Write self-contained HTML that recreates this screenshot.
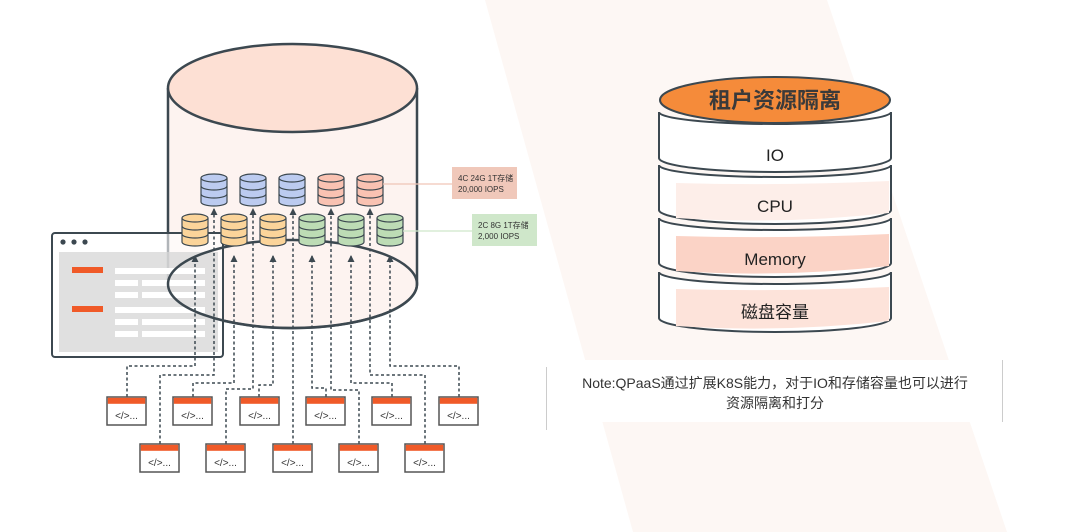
<!DOCTYPE html>
<html><head><meta charset="utf-8"><style>
html,body{margin:0;padding:0;background:#fff;}
svg{display:block;font-family:"Liberation Sans","Noto Sans CJK SC",sans-serif;}
</style></head><body>
<svg width="1080" height="532" viewBox="0 0 1080 532" xmlns="http://www.w3.org/2000/svg">
<defs>
<marker id="ah" markerUnits="userSpaceOnUse" markerWidth="8" markerHeight="8" refX="6" refY="4" orient="auto"><path d="M0,0.5 L7,4 L0,7.5 z" fill="#3c4850"/></marker>
<g id="db">
 <path d="M-13,-12 V12 A13,4 0 0 0 13,12 V-12" stroke="#3c4850" stroke-width="1.2"/>
 <ellipse cx="0" cy="-12" rx="13" ry="4" stroke="#3c4850" stroke-width="1.2"/>
 <path d="M-13,-4 A13,4 0 0 0 13,-4 M-13,4 A13,4 0 0 0 13,4" fill="none" stroke="#3c4850" stroke-width="1.2"/>
</g>
<g id="cl">
 <rect x="0" y="0" width="39" height="28" fill="#fff" stroke="#555" stroke-width="1.5"/>
 <rect x="0.8" y="0.8" width="37.4" height="6" fill="#f05a28"/>
 <text x="19.5" y="22" font-size="10" text-anchor="middle" fill="#333">&lt;/&gt;...</text>
</g>
</defs>
<polygon points="485,0 827,0 1007,532 633,532" fill="#fdf7f4"/>

<!-- big cylinder -->
<path d="M168,88 V284 A124,44 0 0 0 417,284 V88" fill="#fdf3f0" stroke="#3c4850" stroke-width="2.5"/>
<ellipse cx="292.5" cy="88" rx="124.5" ry="44" fill="#fde0d4" stroke="#3c4850" stroke-width="2.5"/>

<!-- window -->
<rect x="52" y="233" width="171" height="124" rx="3" fill="rgba(255,255,255,0.6)" stroke="#3c4850" stroke-width="2"/>
<path d="M222,233 H232" stroke="#3c4850" stroke-width="1.5"/>
<circle cx="63" cy="242" r="2.6" fill="#3c4850"/><circle cx="74" cy="242" r="2.6" fill="#3c4850"/><circle cx="85" cy="242" r="2.6" fill="#3c4850"/>
<rect x="59" y="252" width="159" height="100" fill="#d6d6d6" opacity="0.75"/>
<rect x="72" y="267" width="31" height="6" fill="#f05a28"/>
<rect x="72" y="306" width="31" height="6" fill="#f05a28"/>
<g fill="#fff">
<rect x="115" y="268" width="90" height="6"/><rect x="115" y="280" width="23" height="6"/><rect x="142" y="280" width="63" height="6"/>
<rect x="115" y="292" width="23" height="6"/><rect x="142" y="292" width="63" height="6"/>
<rect x="115" y="307" width="90" height="6"/><rect x="115" y="319" width="23" height="6"/><rect x="142" y="319" width="63" height="6"/>
<rect x="115" y="331" width="23" height="6"/><rect x="142" y="331" width="63" height="6"/>
</g>
<ellipse cx="292.5" cy="284" rx="124.5" ry="44" fill="none" stroke="#3c4850" stroke-width="2.5"/>

<!-- connectors -->
<g fill="none" stroke="#3c4850" stroke-width="1.5" stroke-dasharray="3,2.5" marker-end="url(#ah)">
<path d="M127,397 V366 H195 V256"/>
<path d="M160,444 V375 H214 V209"/>
<path d="M193,397 V383 H234 V256"/>
<path d="M226,444 V389 H253 V209"/>
<path d="M259,397 V385 H273 V256"/>
<path d="M293,444 V209"/>
<path d="M326,397 V388 H312 V256"/>
<path d="M359,444 V390 H331 V209"/>
<path d="M392,397 V383 H351 V256"/>
<path d="M425,444 V375 H370 V209"/>
<path d="M459,397 V366 H390 V256"/>
</g>

<!-- dbs -->
<g fill="#bccbf0"><use href="#db" x="214" y="190"/><use href="#db" x="253" y="190"/><use href="#db" x="292" y="190"/></g>
<g fill="#f9c2b2"><use href="#db" x="331" y="190"/><use href="#db" x="370" y="190"/></g>
<g fill="#fbd49a"><use href="#db" x="195" y="230"/><use href="#db" x="234" y="230"/><use href="#db" x="273" y="230"/></g>
<g fill="#bddcb5"><use href="#db" x="312" y="230"/><use href="#db" x="351" y="230"/><use href="#db" x="390" y="230"/></g>

<line x1="383" y1="184" x2="452" y2="184" stroke="#f0c5b7" stroke-width="1.2"/>
<rect x="452" y="167" width="65" height="32" fill="#f0c8ba"/>
<text x="458" y="181" font-size="8" fill="#333">4C 24G 1T存储</text>
<text x="458" y="192" font-size="8" fill="#333">20,000 IOPS</text>
<line x1="403" y1="231" x2="472" y2="231" stroke="#cfe8cb" stroke-width="1.2"/>
<rect x="472" y="214" width="65" height="32" fill="#cfe7ca"/>
<text x="478" y="228" font-size="8" fill="#333">2C  8G 1T存储</text>
<text x="478" y="239" font-size="8" fill="#333">2,000 IOPS</text>

<!-- clients -->
<use href="#cl" x="107" y="397"/><use href="#cl" x="173" y="397"/><use href="#cl" x="240" y="397"/>
<use href="#cl" x="306" y="397"/><use href="#cl" x="372" y="397"/><use href="#cl" x="439" y="397"/>
<use href="#cl" x="140" y="444"/><use href="#cl" x="206" y="444"/><use href="#cl" x="273" y="444"/>
<use href="#cl" x="339" y="444"/><use href="#cl" x="405" y="444"/>

<!-- right stack -->
<g stroke="#3c4850" stroke-width="2">
<path d="M659,272 A116,12 0 0 0 891,272 V318 A116,14 0 0 1 659,318 Z" fill="#fff"/>
<path d="M659,218 A116,12 0 0 0 891,218 V263 A116,14 0 0 1 659,263 Z" fill="#fff"/>
<path d="M659,165 A116,12 0 0 0 891,165 V210 A116,14 0 0 1 659,210 Z" fill="#fff"/>
<path d="M659,112 A116,12 0 0 0 891,112 V158 A116,14 0 0 1 659,158 Z" fill="#fff"/>
</g>
<path d="M676,183 Q780,186 889,181 V213 Q780,225 676,218 Z" fill="#fdeee9"/>
<path d="M676,236 Q780,239 889,234 V266 Q780,278 676,271 Z" fill="#fbd3c6"/>
<path d="M676,289 Q780,292 889,287 V321 Q780,333 676,326 Z" fill="#fde3da"/>
<ellipse cx="775" cy="100" rx="115" ry="23" fill="#f58b3a" stroke="#3c4850" stroke-width="2"/>
<text x="775" y="108" font-size="22" font-weight="bold" text-anchor="middle" fill="#3a3a3a">租户资源隔离</text>
<g font-size="17" text-anchor="middle" fill="#222">
<text x="775" y="161">IO</text>
<text x="775" y="212">CPU</text>
<text x="775" y="265">Memory</text>
<text x="775" y="318">磁盘容量</text>
</g>

<!-- note -->
<rect x="546" y="360" width="457" height="62" fill="#fff"/>
<line x1="546.5" y1="367" x2="546.5" y2="430" stroke="#ccc"/>
<line x1="1002.5" y1="360" x2="1002.5" y2="422" stroke="#ccc"/>
<text x="775" y="388" font-size="14" text-anchor="middle" fill="#333">Note:QPaaS通过扩展K8S能力，对于IO和存储容量也可以进行</text>
<text x="775" y="408" font-size="14" text-anchor="middle" fill="#333">资源隔离和打分</text>
</svg>
</body></html>
